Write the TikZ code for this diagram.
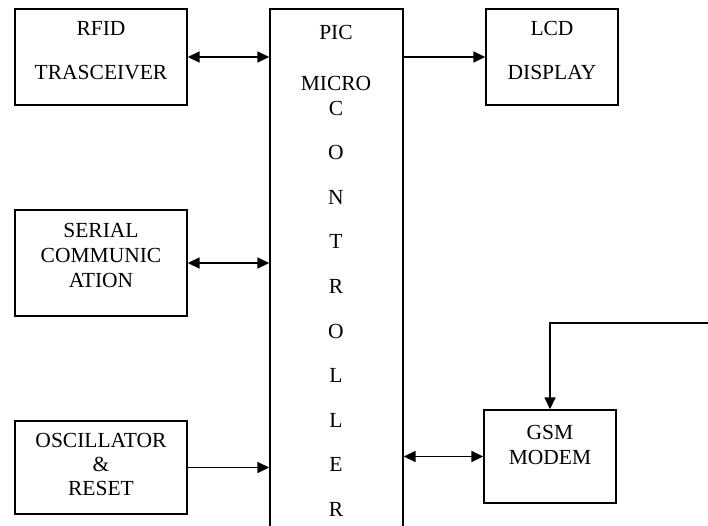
\documentclass[tikz,border=0pt]{standalone}
\usepackage{fontspec}
\setmainfont{Liberation Serif}
\usetikzlibrary{arrows.meta, positioning}
\tikzset{
  every picture/.style={line width=1.4pt},
  box/.style={draw, inner sep=0pt, minimum width=#1},
  box/.default=172pt,
  txt/.style={font=\fontsize{21.5}{25}\selectfont, align=center, inner sep=0pt, anchor=north},
  arrow/.style={-{Triangle[length=12pt, width=11pt]}, line width=1.6pt},
  biarrow/.style={{Triangle[length=12pt, width=11pt]}-{Triangle[length=12pt, width=11pt]}, line width=1.6pt},
}

\begin{document}
\begin{tikzpicture}[x=1pt, y=-1pt]
  \clip (0,0) rectangle (708,525);
  % controller column, open at the bottom
  \node[box=133pt, minimum height=536pt] (pic) at (336.5,277) {};
  \node[txt, anchor=center] (pictxt) at (336,32) {PIC};
  \node[txt, anchor=center] (microtxt) at (336,83) {MICRO};
  \foreach \ch [count=\i from 0] in {C,O,N,T,R,O,L,L,E,R}
    \node[txt, anchor=center] (ch\i) at (336,108+44.6*\i) {\ch};
  % left side
  \node[box, minimum height=96pt] (rfid) at (101,57) {};
  \node[txt, below=12pt of rfid.north, font=\fontsize{21.5}{44}\selectfont] (rfidtxt) {RFID\\TRASCEIVER};
  \node[box, minimum height=106pt] (serial) at (101,263) {};
  \node[txt, below=13pt of serial.north] (serialtxt) {SERIAL\\COMMUNIC\\ATION};
  \node[box, minimum height=93pt] (osc) at (101,467.5) {};
  \node[txt, below=12pt of osc.north, font=\fontsize{21.5}{24}\selectfont] (osctxt) {OSCILLATOR\\\&\\RESET};
  % right side
  \node[box=132pt, minimum height=96pt] (lcd) at (552,57) {};
  \node[txt, below=12pt of lcd.north, font=\fontsize{21.5}{44}\selectfont] (lcdtxt) {LCD\\DISPLAY};
  \node[box=132pt, minimum height=93pt] (gsm) at (550,456.5) {};
  \node[txt, below=15pt of gsm.north] (gsmtxt) {GSM\\MODEM};
  \coordinate (ant) at (712,323);
  \draw[biarrow] (rfid.east) -- (rfid.east -| pic.west);
  \draw[biarrow] (serial.east) -- (serial.east -| pic.west);
  \draw[arrow] (osc.east) -- (osc.east -| pic.west);
  \draw[arrow] (lcd.west -| pic.east) -- (lcd.west);
  \draw[biarrow] (gsm.west -| pic.east) -- (gsm.west);
  \draw[arrow] (ant) -| (gsm.north);
\end{tikzpicture}
\end{document}
